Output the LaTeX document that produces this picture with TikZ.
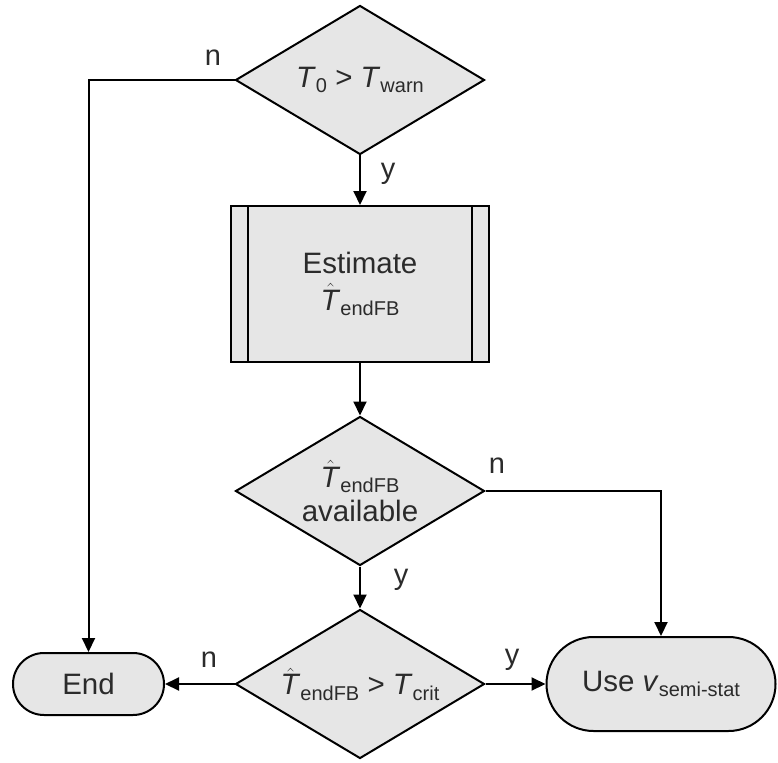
\documentclass[tikz,border=0pt]{standalone}
\usepackage{fontspec}
\setmainfont{Liberation Sans}
\usetikzlibrary{shapes.geometric,arrows.meta}
\definecolor{boxfill}{HTML}{E6E6E6}
\definecolor{ink}{HTML}{2B2B2B}
\newcommand\mysub[1]{\raisebox{-0.35ex}{\fontsize{20}{20}\selectfont #1}}
\newcommand\That{$\hat{\mbox{\textit{T}}}$}
\begin{document}
\begin{tikzpicture}[x=1pt,y=-1pt,
  shapeline/.style={draw=black,line width=2pt,fill=boxfill},
  dia/.style={shapeline,diamond,inner sep=0pt,minimum width=249pt,minimum height=149pt},
  term/.style={shapeline,rectangle,inner sep=0pt},
  txt/.style={text=ink,font=\fontsize{29.5}{34}\selectfont,align=center,inner sep=0pt},
  lbl/.style={text=ink,font=\fontsize{29}{32}\selectfont,inner sep=0pt},
  arr/.style={draw=black,line width=2pt,-{Triangle[length=14pt,width=13pt]}},
  ln/.style={draw=black,line width=2pt}]
\useasboundingbox (0,0) rectangle (778,762);
% decision 1
\node[dia] (d1) at (360,80) {};
\node[txt] (t1) at (d1.center) {\textit{T}\mysub{0} > \textit{T}\mysub{warn}};
% process box
\node[term,minimum width=258pt,minimum height=156pt] (box) at (360,284) {};
\draw[ln] ([xshift=18pt]box.north west) -- ([xshift=18pt]box.south west);
\draw[ln] ([xshift=-18pt]box.north east) -- ([xshift=-18pt]box.south east);
\node[txt] (tb) at (box.center) {Estimate\\[3pt]\That\mysub{endFB}};
% decision 2
\node[dia] (d2) at (360,491) {};
\node[txt] (t2) at (d2.center) {\That\mysub{endFB}\\available};
% decision 3
\node[dia] (d3) at (360,684) {};
\node[txt] (t3) at (d3.center) {\That\mysub{endFB} > \textit{T}\mysub{crit}};
% terminals
\node[term,rounded corners=31pt,minimum width=151pt,minimum height=62pt] (endn) at (88.5,684) {};
\node[txt] (te) at (endn.center) {End};
\node[term,rounded corners=47pt,minimum width=229pt,minimum height=94pt] (use) at (661,684) {};
\node[txt] (tu) at (use.center) {Use \textit{v}\mysub{semi-stat}};
% connectors
\draw[arr] (d1.west) -| (endn.north);
\draw[arr] (d1.south) -- (box.north);
\draw[arr] (box.south) -- (d2.north);
\draw[arr] (d2.east) -| (use.north);
\draw[arr] (d2.south) -- (d3.north);
\draw[arr] (d3.west) -- (endn.east);
\draw[arr] (d3.east) -- (use.west);
% labels
\node[lbl] (l1) at (213,58) {n};
\node[lbl] (l2) at (388,174) {y};
\node[lbl] (l3) at (497,466) {n};
\node[lbl] (l4) at (401,580) {y};
\node[lbl] (l5) at (209,660) {n};
\node[lbl] (l6) at (512,660) {y};
\end{tikzpicture}
\end{document}
